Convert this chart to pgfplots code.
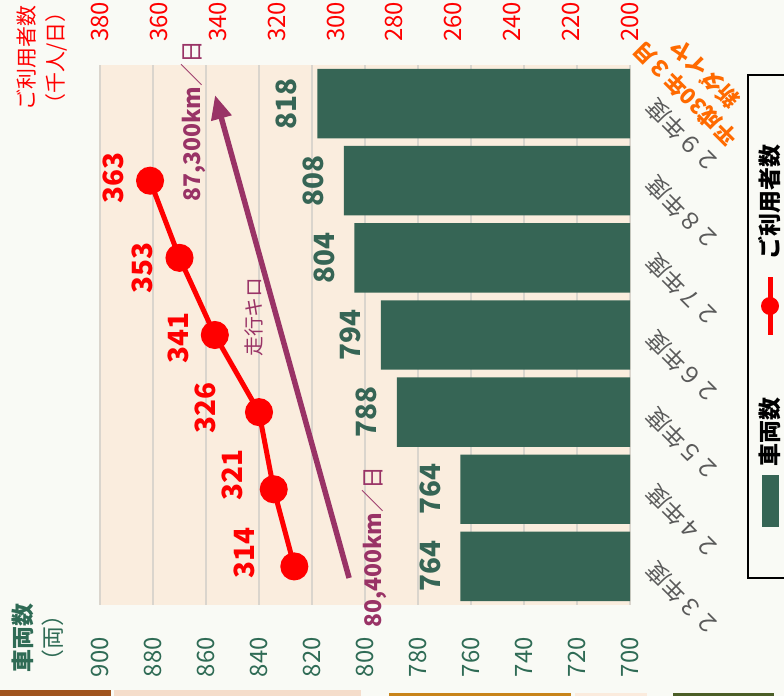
\documentclass[border=0pt]{standalone}
\usepackage{fontspec}
\setmainfont{Noto Sans CJK JP}
\usepackage{pgfplots}
\pgfplotsset{compat=1.18}
\usetikzlibrary{arrows.meta}
\definecolor{bgc}{HTML}{F9FAF5}
\definecolor{peach}{HTML}{FAEDDE}
\definecolor{gridc}{HTML}{DAD5CD}
\definecolor{barc}{HTML}{366555}
\definecolor{tickg}{HTML}{2F6B55}
\definecolor{purp}{HTML}{993366}
\definecolor{orng}{HTML}{FF6A00}
\definecolor{catg}{HTML}{5A5A5A}
\definecolor{stripA}{HTML}{A0541E}
\definecolor{stripB}{HTML}{F5DDCB}
\definecolor{stripC}{HTML}{C8841A}
\definecolor{stripD}{HTML}{FBEBDD}
\definecolor{stripE}{HTML}{4B5E27}
\newcommand{\fs}[1]{\fontsize{#1}{#1}\selectfont}
\begin{document}
\begin{tikzpicture}[x=1bp,y=1bp]
\useasboundingbox (0,0) rectangle (784,696);
\clip (0,0) rectangle (784,696);
\fill[bgc] (0,0) rectangle (784,696);
\fill[stripA] (0,0) rectangle (111,6);
\fill[stripB] (114,0) rectangle (361,6);
\fill[stripC] (389,0) rectangle (571,3);
\fill[stripD] (575,0) rectangle (647,3);
\fill[stripE] (673,0) rectangle (774,3);

\begin{axis}[
  at={(100bp,91bp)}, anchor=south west,
  scale only axis, width=530bp, height=540bp,
  xmin=700, xmax=900, x dir=reverse,
  ymin=-0.5, ymax=6.5,
  clip mode=individual,
  axis line style={draw=none},
  major tick length=0pt,
  xtick={700,720,...,900},
  xmajorgrids, grid style={draw=gridc, line width=1.5bp},
  axis background/.style={fill=peach},
  ytick={0,1,2,3,4,5,6},
  yticklabels={２３年度,２４年度,２５年度,２６年度,２７年度,２８年度,２９年度},
  yticklabel pos=right,
  yticklabel style={rotate=135, anchor=east, inner sep=0pt, font=\fs{23}, text=catg},
  yticklabel shift=20bp,
  xticklabel style={rotate=90, anchor=east, inner sep=0pt, font=\fs{24}, text=tickg},
  xticklabel shift=32bp,
  /pgf/number format/assume math mode=true,
  xbar, bar width=0.9,
  point meta=x,
  nodes near coords,
  every node near coord/.append style={rotate=90, anchor=south, inner sep=0pt, outer sep=20bp, font=\bfseries\fs{28}, text=barc},
]
\addplot[fill=barc, draw=none] coordinates {(764,0) (764,1) (788,2) (794,3) (804,4) (808,5) (818,6)};
\draw[purp, line width=5.5bp, -{Triangle[length=24bp,width=20bp]}] (axis cs:806,-0.15) -- (axis cs:856.6,6.11);
\node[rotate=90, text=purp, inner sep=0pt] at (axis cs:796.6,0.252) {\fs{23}\bfseries 80,400km\mdseries ／日};
\node[rotate=90, text=purp, inner sep=0pt] at (axis cs:864.9,5.774) {\fs{23}\bfseries 87,300km\mdseries ／日};
\node[rotate=90, text=purp, inner sep=0pt] at (axis cs:841.9,3.233) {\fs{20}走行キロ};
\end{axis}

\begin{axis}[
  at={(100bp,91bp)}, anchor=south west,
  scale only axis, width=530bp, height=540bp,
  xmin=200, xmax=380, x dir=reverse,
  ymin=-0.5, ymax=6.5,
  clip=false,
  axis x line*=top, axis y line=none,
  axis line style={draw=none}, major tick length=0pt,
  xtick={200,220,...,380},
  xticklabel style={rotate=90, anchor=west, inner sep=0pt, font=\fs{24}, text=red},
  xticklabel shift=23bp,
  /pgf/number format/assume math mode=true,
]
\addplot[red, line width=5bp, mark=*, mark size=11.5bp, mark options={draw=none, fill=red}]
  coordinates {(314,0) (321,1) (326,2) (341,3) (353,4) (363,5)};
\node[rotate=90, text=red, inner sep=0pt, font=\bfseries\fs{28}] at (axis cs:375.6,5.035) {363};
\node[rotate=90, text=red, inner sep=0pt, font=\bfseries\fs{28}] at (axis cs:365.7,3.869) {353};
\node[rotate=90, text=red, inner sep=0pt, font=\bfseries\fs{28}] at (axis cs:353.5,2.961) {341};
\node[rotate=90, text=red, inner sep=0pt, font=\bfseries\fs{28}] at (axis cs:344.3,2.054) {326};
\node[rotate=90, text=red, inner sep=0pt, font=\bfseries\fs{28}] at (axis cs:335.2,1.185) {321};
\node[rotate=90, text=red, inner sep=0pt, font=\bfseries\fs{28}] at (axis cs:331.1,0.174) {314};
\end{axis}

% legend (drawn rotated, as in the reference)
\draw[black, line width=1.5bp, fill=bgc] (748,118) rectangle (810,621);
\fill[barc] (762,169) rectangle (779,221);
\node[rotate=90, inner sep=0pt, font=\bfseries\fs{23}] at (770,264) {車両数};
\draw[red, line width=5bp] (770,361) -- (770,419);
\fill[red] (770,390) circle (9);
\node[rotate=90, inner sep=0pt, font=\bfseries\fs{23}] at (770,494) {ご利用者数};

\node[rotate=90, align=center, text=red, inner sep=0pt, font=\fontsize{21}{29}\selectfont] at (42,638) {ご利用者数\\（千人/日）};
\node[rotate=90, align=center, text=tickg, inner sep=0pt, font=\fontsize{23}{30}\selectfont] at (38,58) {{\bfseries 車両数}\\（両）};
\node[rotate=135, align=center, text=orng, inner sep=0pt, font=\bfseries\fontsize{22}{28}\selectfont] at (695,612) {平成30年３月\\新ダイヤ};
\end{tikzpicture}
\end{document}
